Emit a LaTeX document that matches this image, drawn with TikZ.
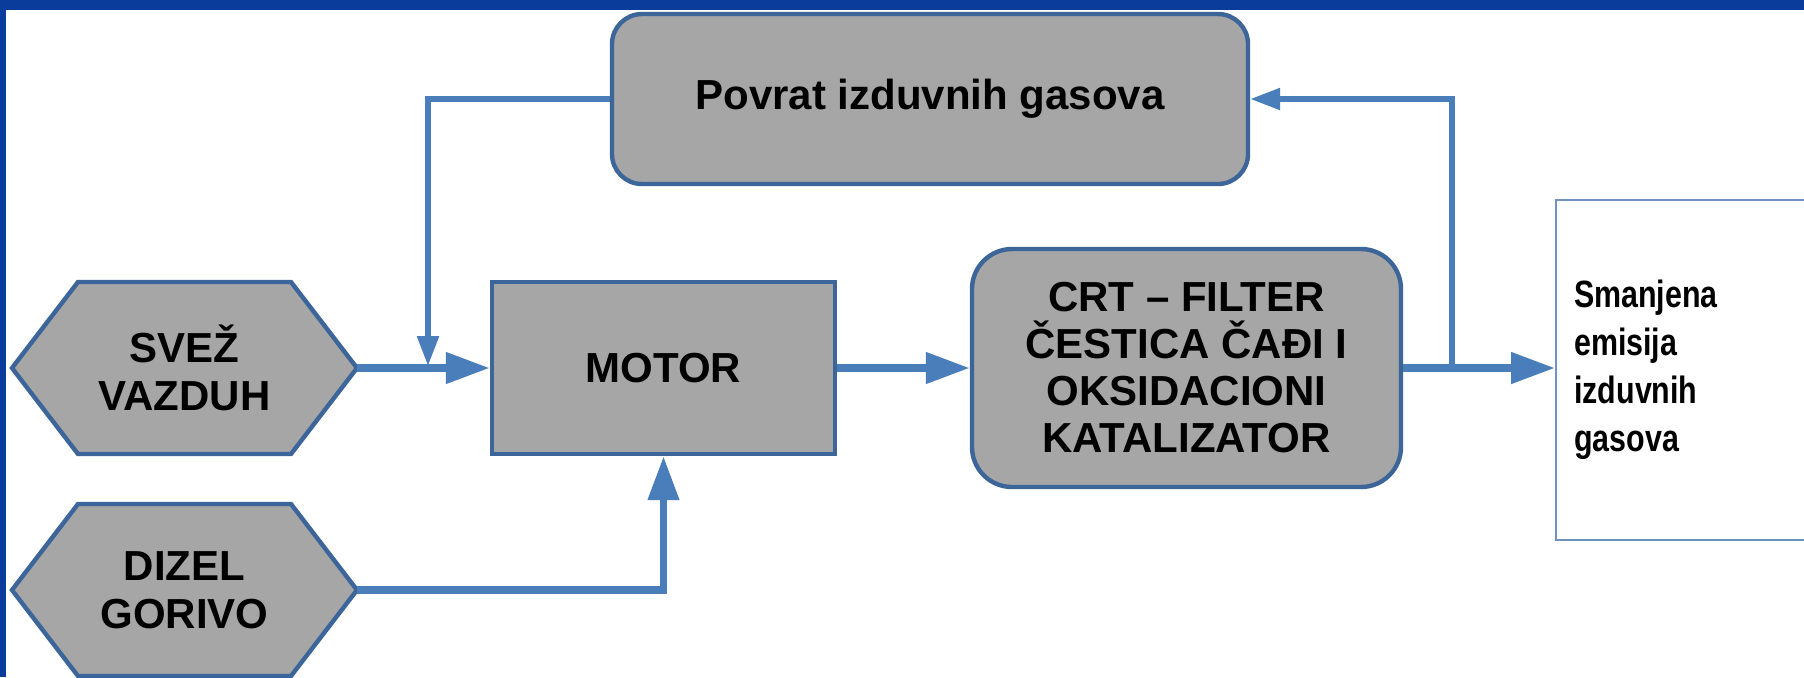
\documentclass[tikz,border=0pt]{standalone}
\usepackage{fontspec}
\setmainfont{Liberation Sans}
\newfontfamily\narrowsans{Liberation Sans}[FakeStretch=0.8]
\usetikzlibrary{arrows.meta}
\definecolor{frameblue}{HTML}{0A3C9C}
\definecolor{lineblue}{HTML}{4A7EBB}
\definecolor{boxedge}{HTML}{3C659A}
\definecolor{boxfill}{HTML}{A6A6A6}
\definecolor{outedge}{HTML}{7391BE}
\begin{document}
\begin{tikzpicture}[x=0.5pt,y=-0.5pt,
  lbl/.style={font=\fontsize{21}{24}\selectfont\bfseries, align=center, text=black, inner sep=0pt},
  boxst/.style={draw=boxedge, line width=2.2pt, fill=boxfill},
  hexst/.style={draw=boxedge, line width=2.2pt, fill=boxfill, line join=miter},
  flow/.style={draw=lineblue, line width=3.8pt, -{Triangle[length=22pt,width=15pt]}},
  fb/.style={draw=lineblue, line width=2.7pt, -{Triangle[length=15pt,width=10.5pt]}},
]
\useasboundingbox (0,0) rectangle (1804,677);
\fill[white] (0,0) rectangle (1804,677);

% hexagon shapes
\draw[hexst] (12,368) -- (78,282) -- (291,282) -- (357,368) -- (291,454) -- (78,454) -- cycle;
\draw[hexst] (12,590) -- (78,504) -- (291,504) -- (357,590) -- (291,676) -- (78,676) -- cycle;

% nodes
\node[lbl, minimum width=172.5pt, minimum height=86pt] (sv) at (184.5,368) {SVEŽ\\VAZDUH};
\node[lbl, minimum width=172.5pt, minimum height=86pt] (dz) at (184.5,590) {DIZEL\\GORIVO};
\node[boxst, lbl, minimum width=171.5pt, minimum height=86pt] (motor) at (663.5,368) {MOTOR};
\node[boxst, lbl, rounded corners=20pt, minimum width=214.5pt, minimum height=119pt,
      font=\fontsize{21}{23.5}\selectfont\bfseries] (crt) at (1186.5,368)
      {CRT – FILTER\\ČESTICA ČAĐI I\\OKSIDACIONI\\KATALIZATOR};
\node[boxst, lbl, rounded corners=15pt, minimum width=318pt, minimum height=85pt] (pov) at (930,99)
      {Povrat izduvnih gasova};
\node[draw=outedge, line width=1.2pt, fill=white, minimum height=170pt, text width=118.5pt,
      inner xsep=9pt, inner ysep=0pt, align=left, text=black,
      font=\narrowsans\fontsize{19}{24}\selectfont\bfseries, anchor=west] (out) at (1555,370)
      {Smanjena\\emisija\\izduvnih\\gasova};

% junction points
\coordinate (j1) at (428,366);
\coordinate (j2) at (1452,368);

% connectors
\draw[flow] (sv.east) -- (motor.west);
\draw[flow] (motor.east) -- (crt.west);
\draw[flow] (crt.east) -- (out.west |- crt.east);
\draw[flow] (dz.east) -| (motor.south);
\draw[fb] (pov.west) -| (j1);
\draw[fb] (j2) |- (pov.east);

% frame
\fill[frameblue] (0,0) rectangle (1804,10);
\fill[frameblue] (0,0) rectangle (6,677);
\end{tikzpicture}
\end{document}
